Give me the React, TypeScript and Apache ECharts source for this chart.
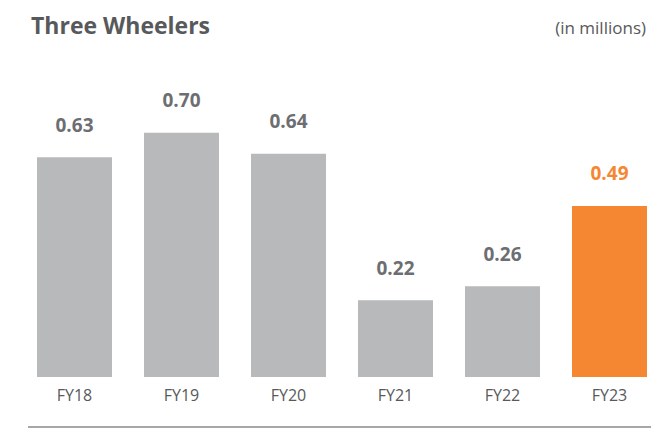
import React, { useEffect, useRef } from "react";
import * as echarts from "echarts";

const categories = ["FY18", "FY19", "FY20", "FY21", "FY22", "FY23"];
const values = [0.63, 0.7, 0.64, 0.22, 0.26, 0.49];
const highlightIndex = 5;

const GRAY = "#b8b9bb";
const ORANGE = "#f58733";
const TEXT = "#6d6e71";

export default function App() {
  const ref = useRef<HTMLDivElement>(null);
  useEffect(() => {
    if (!ref.current) return;
    const chart = echarts.init(ref.current, null, { renderer: "svg" });
    chart.setOption({
      animation: false,
      backgroundColor: "#ffffff",
      title: [
        {
          text: "Three Wheelers",
          left: 26,
          top: 8,
          textStyle: { fontFamily: "Open Sans", fontWeight: "bold", fontSize: 23, color: "#58595b" },
        },
        {
          text: "(in millions)",
          right: 1,
          top: 14,
          textStyle: { fontFamily: "Open Sans", fontWeight: "normal", fontSize: 17, color: "#58595b" },
        },
      ],
      grid: { left: 21, top: 28, width: 642, bottom: 53, containLabel: false, outerBoundsMode: "none" },
      xAxis: {
        type: "category",
        data: categories,
        axisLine: { show: false },
        axisTick: { show: false },
        axisLabel: { fontFamily: "Open Sans", fontSize: 16, color: "#58595b", margin: 10 },
      },
      yAxis: { type: "value", min: 0, max: 1, show: false, splitLine: { show: false } },
      series: [
        {
          type: "bar",
          barWidth: 75,
          data: values.map((v, i) => ({
            value: v,
            itemStyle: { color: i === highlightIndex ? ORANGE : GRAY },
            label: { color: i === highlightIndex ? ORANGE : TEXT },
          })),
          label: {
            show: true,
            position: "top",
            distance: 23,
            fontFamily: "Open Sans",
            fontWeight: "bold",
            fontSize: 19,
            formatter: (p: any) => p.value.toFixed(2),
          },
        },
      ],
      graphic: [
        {
          type: "line",
          shape: { x1: 28, y1: 427, x2: 651, y2: 427 },
          style: { stroke: "#8a8a8a", lineWidth: 1.5 },
        },
      ],
    });
    return () => chart.dispose();
  }, []);
  return <div ref={ref} style={{ width: 652, height: 430, position: "absolute", left: 0, top: 0 }} />;
}
